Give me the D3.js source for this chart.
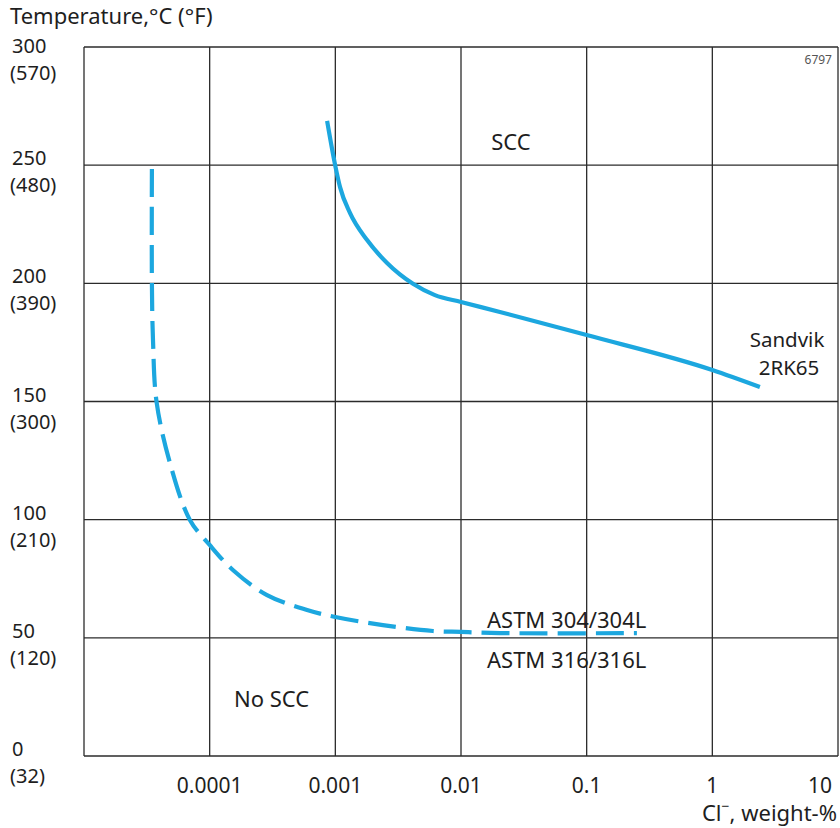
<!DOCTYPE html>
<html><head><meta charset="utf-8">
<script src="https://cdn.jsdelivr.net/npm/d3@7"></script>
<style>body{margin:0;background:#fff}svg text{font-family:"Noto Sans",sans-serif;fill:#1e1e1e}</style>
</head><body><svg id="c" width="840" height="828"></svg>
<script>
// Data
const xTicks = [0.0001, 0.001, 0.01, 0.1, 1, 10];
const xTickLabels = ["0.0001", "0.001", "0.01", "0.1", "1", "10"];
const yTicks = [0, 50, 100, 150, 200, 250, 300];
const yTickLabelsF = ["(32)", "(120)", "(210)", "(300)", "(390)", "(480)", "(570)"];
const sandvikCl = [0.00086, 0.001, 0.00109, 0.00131, 0.00179, 0.00258, 0.00415, 0.0062, 0.01, 0.0204, 0.1, 1, 2.39];
const sandvikT  = [268.7, 249.6, 240.7, 229.7, 218.3, 208.6, 199.8, 195.0, 192.1, 187.9, 178.1, 163.3, 156.1];
const astmCl = [3.47e-5, 3.47e-5, 3.54e-5, 3.78e-5, 4.83e-5, 6.96e-5, 1e-4, 1.53e-4, 2.86e-4, 5.96e-4, 0.001, 0.00239, 0.00598, 0.01, 0.0204, 0.251];
const astmT  = [248.4, 200.1, 176.0, 149.8, 124.0, 99.9, 89.3, 78.7, 68.1, 61.8, 58.8, 55.4, 52.9, 52.5, 52.0, 52.0];

const svg = d3.select("#c");
const L = 84, R = 838, T = 47, B = 756;
const x = d3.scaleLog().domain([1e-5, 10]).range([L, R]);
const y = d3.scaleLinear().domain([0, 300]).range([B, T]);
const grid = "#2b2b2b";
const blue = "#1ca7df";
const FS = 22, FN = 20;

// grid lines
svg.append("g").selectAll("line").data(xTicks).join("line")
  .attr("x1", d => x(d)).attr("x2", d => x(d)).attr("y1", T).attr("y2", B)
  .attr("stroke", grid).attr("stroke-width", 1.3);
svg.append("g").selectAll("line").data(yTicks).join("line")
  .attr("x1", L).attr("x2", R).attr("y1", d => y(d)).attr("y2", d => y(d))
  .attr("stroke", grid).attr("stroke-width", 1.3);
svg.append("line").attr("x1", L).attr("x2", L).attr("y1", T).attr("y2", B).attr("stroke", grid).attr("stroke-width", 1.3);

// y labels
const yl = svg.append("g");
yTicks.forEach((t, i) => {
  const by = Math.max(y(t), 53);
  yl.append("text").attr("x", 12).attr("y", by).attr("font-size", FN).text(t);
  yl.append("text").attr("x", 10).attr("y", by + 27).attr("font-size", FN).text(yTickLabelsF[i]);
});
svg.append("text").attr("x", 10).attr("y", 24).attr("font-size", FS).text("Temperature,°C (°F)");

// x labels
svg.append("g").selectAll("text").data(xTicks).join("text")
  .attr("x", (d, i) => i === xTicks.length - 1 ? x(d) - 18 : x(d))
  .attr("y", 793).attr("text-anchor", "middle").attr("font-size", 21)
  .text((d, i) => xTickLabels[i]);
const xt = svg.append("text").attr("x", 837).attr("y", 821).attr("text-anchor", "end").attr("font-size", FS);
xt.append("tspan").text("Cl");
xt.append("tspan").attr("dy", -10).attr("font-size", 14).text("−");
xt.append("tspan").attr("dy", 10).text(", weight-%");

svg.append("text").attr("x", 832).attr("y", 64).attr("text-anchor", "end").attr("font-size", 12).style("fill", "#555").text("6797");

// curves
const lineS = d3.line().x(d => x(d[0])).y(d => y(d[1])).curve(d3.curveMonotoneX);
const lineA = d3.line().x(d => x(d[0])).y(d => y(d[1])).curve(d3.curveCatmullRom);
svg.append("path").datum(sandvikCl.map((c, i) => [c, sandvikT[i]]))
  .attr("d", lineS).attr("fill", "none").attr("stroke", blue).attr("stroke-width", 4.2);
svg.append("path").datum(astmCl.map((c, i) => [c, astmT[i]]))
  .attr("d", lineA).attr("fill", "none").attr("stroke", blue).attr("stroke-width", 4.2)
  .attr("stroke-dasharray", "28,10");

// annotations
svg.append("text").attr("x", 511).attr("y", 150).attr("text-anchor", "middle").attr("font-size", FS).text("SCC");
svg.append("text").attr("x", 787).attr("y", 347).attr("text-anchor", "middle").attr("font-size", 20.5).text("Sandvik");
svg.append("text").attr("x", 789).attr("y", 375).attr("text-anchor", "middle").attr("font-size", 20.5).text("2RK65");
svg.append("text").attr("x", 487).attr("y", 628).attr("font-size", FS).text("ASTM 304/304L");
svg.append("text").attr("x", 487).attr("y", 668).attr("font-size", FS).text("ASTM 316/316L");
svg.append("text").attr("x", 234).attr("y", 707).attr("font-size", FS).text("No SCC");
</script></body></html>
